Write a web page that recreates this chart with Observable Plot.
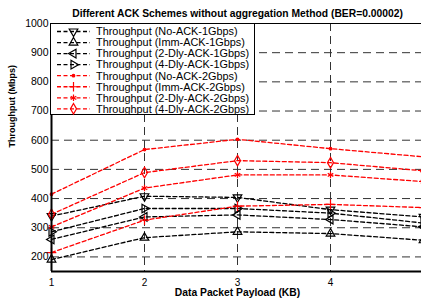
<!DOCTYPE html>
<html><head><meta charset="utf-8">
<script src="https://cdn.jsdelivr.net/npm/d3@7"></script>
<script src="https://cdn.jsdelivr.net/npm/@observablehq/plot@0.6"></script>
<style>
html,body{margin:0;padding:0;background:#fff;}
#wrap{width:421px;height:303px;overflow:hidden;position:relative;}
#wrap svg{max-width:none !important;}
</style></head>
<body><div id="wrap"></div>
<script>
const xs = [1, 2, 3, 4, 5];
const names = [
  "Throughput (No-ACK-1Gbps)", "Throughput (Imm-ACK-1Gbps)",
  "Throughput (2-Dly-ACK-1Gbps)", "Throughput (4-Dly-ACK-1Gbps)",
  "Throughput (No-ACK-2Gbps)", "Throughput (Imm-ACK-2Gbps)",
  "Throughput (2-Dly-ACK-2Gbps)", "Throughput (4-Dly-ACK-2Gbps)"
];
const noAck1 = [340, 408, 404, 362, 337];
const imm1   = [191, 266, 286, 280, 257];
const dly2_1 = [260, 337, 344, 328, 303];
const dly4_1 = [286, 366, 366, 350, 316];
const noAck2 = [415, 568, 603, 571, 543];
const imm2   = [215, 326, 374, 380, 369];
const dly2_2 = [303, 436, 481, 481, 458];
const dly4_2 = [346, 489, 530, 523, 495];
const xTicks = [1, 2, 3, 4];
const yTicks = [200, 300, 400, 500, 600, 700, 800, 900, 1000];
const gridXs = [2, 3, 4];
const gridYs = [200, 300, 400, 500, 600, 700, 800, 900];
const title = "Different ACK Schemes without aggregation Method (BER=0.00002)";
const xLabel = "Data Packet Payload (KB)";
const yLabel = "Throughput (Mbps)";

function tri(angleDeg) {
  return {draw(ctx, size) {
    const R = Math.sqrt(size / (3 * Math.sqrt(3) / 4));
    for (let k = 0; k < 3; k++) {
      const a = (angleDeg + k * 120) * Math.PI / 180;
      const px = R * Math.cos(a), py = R * Math.sin(a);
      if (k === 0) ctx.moveTo(px, py); else ctx.lineTo(px, py);
    }
    ctx.closePath();
  }};
}
const triDown = tri(90), triUp = tri(-90), triLeft = tri(180), triRight = tri(0);

const series = [
  {name: names[0], values: noAck1, color: "#000", symbol: triDown, r: 3.2, fill: "none"},
  {name: names[1], values: imm1, color: "#000", symbol: triUp, r: 3.2, fill: "none"},
  {name: names[2], values: dly2_1, color: "#000", symbol: triLeft, r: 3.2, fill: "none"},
  {name: names[3], values: dly4_1, color: "#000", symbol: triRight, r: 3.2, fill: "none"},
  {name: names[4], values: noAck2, color: "#f00", symbol: "circle", r: 1.3, fill: "#f00"},
  {name: names[5], values: imm2, color: "#f00", symbol: "plus", r: 3.2, fill: "none"},
  {name: names[6], values: dly2_2, color: "#f00", symbol: "asterisk", r: 3, fill: "none"},
  {name: names[7], values: dly4_2, color: "#f00", symbol: "diamond", r: 3.2, fill: "none"}
];
const rows = s => xs.map((x, i) => ({x, y: s.values[i], name: s.name}));

const FONT = "'Liberation Sans', Arial, Helvetica, sans-serif";
const marks = [
  Plot.gridX(gridXs, {stroke: "#333", strokeOpacity: 1, strokeDasharray: "8,5", strokeWidth: 1}),
  Plot.gridY(gridYs, {stroke: "#333", strokeOpacity: 1, strokeDasharray: "8,5", strokeWidth: 1})
];
for (const s of series) {
  marks.push(Plot.line(rows(s), {x: "x", y: "y", stroke: s.color, strokeWidth: 1.3, strokeDasharray: "4,2.5"}));
}
for (const s of series) {
  marks.push(Plot.dot(rows(s), {x: "x", y: "y", stroke: s.color, fill: s.fill, symbol: () => s.symbol, r: s.r, strokeWidth: 1.2}));
}
marks.push(
  Plot.frame({stroke: "#000", strokeWidth: 1}),
  Plot.ruleX([1], {stroke: "#000", strokeWidth: 2}),
  Plot.ruleY([150], {stroke: "#000", strokeWidth: 2}),
  Plot.axisX({ticks: xTicks, tickFormat: d => String(d), tickSize: 0, tickPadding: 7, label: null, fontSize: 10}),
  Plot.axisY({ticks: yTicks, tickFormat: d => String(d), tickSize: 0, tickPadding: 3, label: null, fontSize: 10.5}),
  Plot.text([title], {frameAnchor: "top", dy: -10, lineAnchor: "middle", fontWeight: "bold", fontSize: 10.3}),
  Plot.text([xLabel], {frameAnchor: "bottom", dy: 21, lineAnchor: "middle", fontWeight: "bold", fontSize: 10.3}),
  Plot.text([yLabel], {frameAnchor: "left", dx: -39, rotate: -90, lineAnchor: "middle", fontWeight: "bold", fontSize: 9})
);

const chart = Plot.plot({
  width: 440, height: 303,
  marginLeft: 51, marginRight: 17, marginTop: 23, marginBottom: 32,
  x: {domain: [1, 5]},
  y: {domain: [150, 1000]},
  style: {fontFamily: FONT, color: "#000", background: "#fff", overflow: "visible", maxWidth: "none"},
  marks
});
document.getElementById("wrap").appendChild(chart);

// legend
const svg = d3.select(chart);
const lg = svg.append("g").attr("font-family", FONT).attr("text-anchor", "start");
lg.append("rect").attr("x", 50.5).attr("y", 23.5).attr("width", 204).attr("height", 91)
  .attr("fill", "#fff").attr("stroke", "#000").attr("stroke-width", 1);
series.forEach((s, i) => {
  const y = 31.5 + i * 11.05;
  lg.append("line").attr("x1", 57).attr("x2", 90).attr("y1", y).attr("y2", y)
    .attr("stroke", s.color).attr("stroke-width", 1.3).attr("stroke-dasharray", "4,2.5");
  const sym = typeof s.symbol === "string" ? ({circle: d3.symbolCircle, plus: d3.symbolPlus, asterisk: d3.symbolAsterisk, diamond: d3.symbolDiamond})[s.symbol] : s.symbol;
  lg.append("path").attr("transform", `translate(73.5,${y})`)
    .attr("d", d3.symbol(sym, Math.PI * s.r * s.r)())
    .attr("stroke", s.color).attr("fill", s.fill).attr("stroke-width", 1.2);
  lg.append("text").attr("x", 96).attr("y", y).attr("dy", "0.35em")
    .attr("text-anchor", "start")
    .attr("font-size", 10.9).attr("fill", "#000").text(s.name);
});
</script></body></html>
